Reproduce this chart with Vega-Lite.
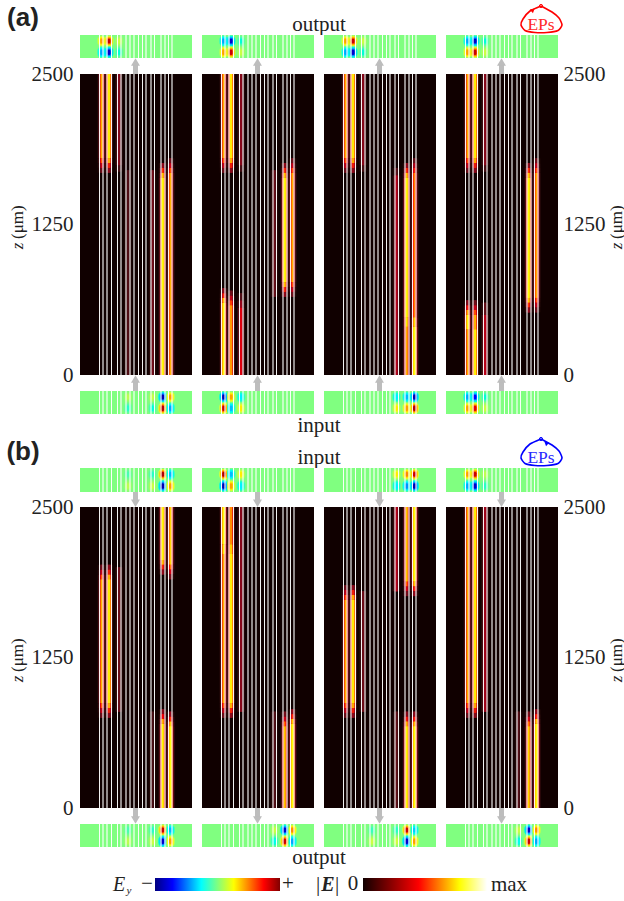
{"$schema":"https://vega.github.io/schema/vega-lite/v6.json","padding":0,"spacing":0,"background":"white","config":{"view":{"stroke":null},"concat":{"spacing":0},"text":{"font":"Liberation Serif"}},
"datasets":{
"stripes":[{"x":19.5,"k":"w"},{"x":23,"k":"g"},{"x":27,"k":"g"},{"x":31.5,"k":"w"},{"x":37.5,"k":"w"},{"x":41,"k":"g"},{"x":46,"k":"g"},{"x":50,"k":"g"},{"x":54,"k":"g"},{"x":58.5,"k":"w"},{"x":62.5,"k":"w"},{"x":66,"k":"g"},{"x":71,"k":"g"},{"x":74.5,"k":"w"},{"x":81,"k":"g"},{"x":85,"k":"g"},{"x":88.5,"k":"w"},{"x":92,"k":"g"}],
"up":[{"c":1,"a":0,"b":9,"h":12},{"c":2,"a":0,"b":9,"h":12},{"c":3,"a":0,"b":9,"h":12},{"c":4,"a":0,"b":9,"h":12}],
"down":[{"c":1,"a":7,"b":16,"h":4},{"c":2,"a":7,"b":16,"h":4},{"c":3,"a":7,"b":16,"h":4},{"c":4,"a":7,"b":16,"h":4}],
"axisText":[{"x":18,"z":1071,"t":"z","s":"i"},{"x":18,"z":1270,"t":"(μm)","s":"n"}],
"axisTextR":[{"x":54,"z":1071,"t":"z","s":"i"},{"x":54,"z":1270,"t":"(μm)","s":"n"}],
"heat":[
{"r":"a","c":1,"x":48,"a":0,"b":1700,"v":0.14},{"r":"a","c":1,"x":72.4,"a":0,"b":1700,"v":0.2},{"r":"a","c":1,"x":39,"a":1740,"b":2500,"v":0.25},{"r":"a","c":1,"x":39,"a":1690,"b":1740,"v":0.12},
{"r":"a","c":1,"x":21.7,"a":1800,"b":2500,"v":0.66},{"r":"a","c":1,"x":21.7,"a":1760,"b":1800,"v":0.53},{"r":"a","c":1,"x":21.7,"a":1720,"b":1760,"v":0.36},{"r":"a","c":1,"x":21.7,"a":1680,"b":1720,"v":0.2},
{"r":"a","c":1,"x":29,"a":1800,"b":2500,"v":0.86},{"r":"a","c":1,"x":29,"a":1760,"b":1800,"v":0.69},{"r":"a","c":1,"x":29,"a":1720,"b":1760,"v":0.47},{"r":"a","c":1,"x":29,"a":1680,"b":1720,"v":0.26},
{"r":"a","c":1,"x":82.7,"a":0,"b":1640,"v":0.88},{"r":"a","c":1,"x":82.7,"a":1640,"b":1680,"v":0.7},{"r":"a","c":1,"x":82.7,"a":1680,"b":1720,"v":0.48},{"r":"a","c":1,"x":82.7,"a":1720,"b":1760,"v":0.26},
{"r":"a","c":1,"x":90.5,"a":0,"b":1680,"v":0.64},{"r":"a","c":1,"x":90.5,"a":1680,"b":1720,"v":0.51},{"r":"a","c":1,"x":90.5,"a":1720,"b":1760,"v":0.35},{"r":"a","c":1,"x":90.5,"a":1760,"b":1800,"v":0.19},

{"r":"a","c":2,"x":72.4,"a":650,"b":1700,"v":0.18},{"r":"a","c":2,"x":39,"a":1740,"b":2500,"v":0.25},{"r":"a","c":2,"x":39,"a":1690,"b":1740,"v":0.12},{"r":"a","c":2,"x":39,"a":0,"b":560,"v":0.42},{"r":"a","c":2,"x":39,"a":560,"b":620,"v":0.28},{"r":"a","c":2,"x":39,"a":620,"b":680,"v":0.14},
{"r":"a","c":2,"x":21.7,"a":1800,"b":2500,"v":0.66},{"r":"a","c":2,"x":21.7,"a":1760,"b":1800,"v":0.53},{"r":"a","c":2,"x":21.7,"a":1720,"b":1760,"v":0.36},{"r":"a","c":2,"x":21.7,"a":1680,"b":1720,"v":0.2},
{"r":"a","c":2,"x":29,"a":1800,"b":2500,"v":0.86},{"r":"a","c":2,"x":29,"a":1760,"b":1800,"v":0.69},{"r":"a","c":2,"x":29,"a":1720,"b":1760,"v":0.47},{"r":"a","c":2,"x":29,"a":1680,"b":1720,"v":0.26},
{"r":"a","c":2,"x":82.7,"a":770,"b":1640,"v":0.88},{"r":"a","c":2,"x":82.7,"a":1640,"b":1680,"v":0.7},{"r":"a","c":2,"x":82.7,"a":1680,"b":1720,"v":0.48},{"r":"a","c":2,"x":82.7,"a":1720,"b":1760,"v":0.26},{"r":"a","c":2,"x":82.7,"a":730,"b":770,"v":0.7},{"r":"a","c":2,"x":82.7,"a":690,"b":730,"v":0.48},{"r":"a","c":2,"x":82.7,"a":650,"b":690,"v":0.26},
{"r":"a","c":2,"x":90.5,"a":770,"b":1680,"v":0.64},{"r":"a","c":2,"x":90.5,"a":1680,"b":1720,"v":0.51},{"r":"a","c":2,"x":90.5,"a":1720,"b":1760,"v":0.35},{"r":"a","c":2,"x":90.5,"a":1760,"b":1800,"v":0.19},{"r":"a","c":2,"x":90.5,"a":730,"b":770,"v":0.51},{"r":"a","c":2,"x":90.5,"a":690,"b":730,"v":0.35},{"r":"a","c":2,"x":90.5,"a":650,"b":690,"v":0.19},
{"r":"a","c":2,"x":21.7,"a":0,"b":600,"v":0.86},{"r":"a","c":2,"x":21.7,"a":600,"b":640,"v":0.69},{"r":"a","c":2,"x":21.7,"a":640,"b":680,"v":0.47},{"r":"a","c":2,"x":21.7,"a":680,"b":720,"v":0.26},
{"r":"a","c":2,"x":29,"a":0,"b":580,"v":0.66},{"r":"a","c":2,"x":29,"a":580,"b":620,"v":0.53},{"r":"a","c":2,"x":29,"a":620,"b":660,"v":0.36},{"r":"a","c":2,"x":29,"a":660,"b":700,"v":0.2},

{"r":"a","c":3,"x":72.4,"a":0,"b":1660,"v":0.32},{"r":"a","c":3,"x":72.4,"a":1660,"b":1720,"v":0.15},{"r":"a","c":3,"x":39,"a":1740,"b":2500,"v":0.25},{"r":"a","c":3,"x":39,"a":1690,"b":1740,"v":0.12},
{"r":"a","c":3,"x":21.7,"a":1800,"b":2500,"v":0.66},{"r":"a","c":3,"x":21.7,"a":1760,"b":1800,"v":0.53},{"r":"a","c":3,"x":21.7,"a":1720,"b":1760,"v":0.36},{"r":"a","c":3,"x":21.7,"a":1680,"b":1720,"v":0.2},
{"r":"a","c":3,"x":29,"a":1800,"b":2500,"v":0.86},{"r":"a","c":3,"x":29,"a":1760,"b":1800,"v":0.69},{"r":"a","c":3,"x":29,"a":1720,"b":1760,"v":0.47},{"r":"a","c":3,"x":29,"a":1680,"b":1720,"v":0.26},
{"r":"a","c":3,"x":82.7,"a":0,"b":400,"v":0.66},{"r":"a","c":3,"x":82.7,"a":400,"b":480,"v":0.77},{"r":"a","c":3,"x":82.7,"a":480,"b":1640,"v":0.88},{"r":"a","c":3,"x":82.7,"a":1640,"b":1680,"v":0.7},{"r":"a","c":3,"x":82.7,"a":1680,"b":1720,"v":0.48},{"r":"a","c":3,"x":82.7,"a":1720,"b":1760,"v":0.26},
{"r":"a","c":3,"x":90.5,"a":0,"b":400,"v":0.88},{"r":"a","c":3,"x":90.5,"a":400,"b":480,"v":0.72},{"r":"a","c":3,"x":90.5,"a":480,"b":1680,"v":0.58},{"r":"a","c":3,"x":90.5,"a":1680,"b":1720,"v":0.46},{"r":"a","c":3,"x":90.5,"a":1720,"b":1760,"v":0.32},{"r":"a","c":3,"x":90.5,"a":1760,"b":1800,"v":0.17},

{"r":"a","c":4,"x":39,"a":1740,"b":2500,"v":0.25},{"r":"a","c":4,"x":39,"a":1690,"b":1740,"v":0.12},{"r":"a","c":4,"x":39,"a":0,"b":500,"v":0.35},{"r":"a","c":4,"x":39,"a":500,"b":600,"v":0.18},
{"r":"a","c":4,"x":21.7,"a":1800,"b":2500,"v":0.66},{"r":"a","c":4,"x":21.7,"a":1760,"b":1800,"v":0.53},{"r":"a","c":4,"x":21.7,"a":1720,"b":1760,"v":0.36},{"r":"a","c":4,"x":21.7,"a":1680,"b":1720,"v":0.2},
{"r":"a","c":4,"x":29,"a":1800,"b":2500,"v":0.86},{"r":"a","c":4,"x":29,"a":1760,"b":1800,"v":0.69},{"r":"a","c":4,"x":29,"a":1720,"b":1760,"v":0.47},{"r":"a","c":4,"x":29,"a":1680,"b":1720,"v":0.26},
{"r":"a","c":4,"x":82.7,"a":640,"b":1640,"v":0.88},{"r":"a","c":4,"x":82.7,"a":1640,"b":1680,"v":0.7},{"r":"a","c":4,"x":82.7,"a":1680,"b":1720,"v":0.48},{"r":"a","c":4,"x":82.7,"a":1720,"b":1760,"v":0.26},{"r":"a","c":4,"x":82.7,"a":600,"b":640,"v":0.7},{"r":"a","c":4,"x":82.7,"a":560,"b":600,"v":0.48},{"r":"a","c":4,"x":82.7,"a":520,"b":560,"v":0.26},
{"r":"a","c":4,"x":90.5,"a":640,"b":1680,"v":0.64},{"r":"a","c":4,"x":90.5,"a":1680,"b":1720,"v":0.51},{"r":"a","c":4,"x":90.5,"a":1720,"b":1760,"v":0.35},{"r":"a","c":4,"x":90.5,"a":1760,"b":1800,"v":0.19},{"r":"a","c":4,"x":90.5,"a":600,"b":640,"v":0.51},{"r":"a","c":4,"x":90.5,"a":560,"b":600,"v":0.35},{"r":"a","c":4,"x":90.5,"a":520,"b":560,"v":0.19},
{"r":"a","c":4,"x":21.7,"a":0,"b":380,"v":0.66},{"r":"a","c":4,"x":21.7,"a":380,"b":500,"v":0.84},{"r":"a","c":4,"x":21.7,"a":500,"b":540,"v":0.67},{"r":"a","c":4,"x":21.7,"a":540,"b":580,"v":0.46},{"r":"a","c":4,"x":21.7,"a":580,"b":620,"v":0.25},
{"r":"a","c":4,"x":29,"a":0,"b":380,"v":0.88},{"r":"a","c":4,"x":29,"a":380,"b":500,"v":0.7},{"r":"a","c":4,"x":29,"a":500,"b":540,"v":0.56},{"r":"a","c":4,"x":29,"a":540,"b":580,"v":0.38},{"r":"a","c":4,"x":29,"a":580,"b":620,"v":0.21},

{"r":"b","c":1,"x":39,"a":800,"b":2000,"v":0.2},{"r":"b","c":1,"x":72.4,"a":0,"b":800,"v":0.12},
{"r":"b","c":1,"x":82.7,"a":2060,"b":2500,"v":0.86},{"r":"b","c":1,"x":82.7,"a":2020,"b":2060,"v":0.69},{"r":"b","c":1,"x":82.7,"a":1980,"b":2020,"v":0.47},{"r":"b","c":1,"x":82.7,"a":1940,"b":1980,"v":0.26},
{"r":"b","c":1,"x":90.5,"a":2020,"b":2500,"v":0.7},{"r":"b","c":1,"x":90.5,"a":1980,"b":2020,"v":0.56},{"r":"b","c":1,"x":90.5,"a":1940,"b":1980,"v":0.38},{"r":"b","c":1,"x":90.5,"a":1900,"b":1940,"v":0.21},
{"r":"b","c":1,"x":21.7,"a":870,"b":1900,"v":0.66},{"r":"b","c":1,"x":21.7,"a":1900,"b":1940,"v":0.53},{"r":"b","c":1,"x":21.7,"a":1940,"b":1980,"v":0.36},{"r":"b","c":1,"x":21.7,"a":1980,"b":2020,"v":0.2},{"r":"b","c":1,"x":21.7,"a":830,"b":870,"v":0.53},{"r":"b","c":1,"x":21.7,"a":790,"b":830,"v":0.36},{"r":"b","c":1,"x":21.7,"a":750,"b":790,"v":0.2},
{"r":"b","c":1,"x":29,"a":870,"b":1900,"v":0.86},{"r":"b","c":1,"x":29,"a":1900,"b":1940,"v":0.69},{"r":"b","c":1,"x":29,"a":1940,"b":1980,"v":0.47},{"r":"b","c":1,"x":29,"a":1980,"b":2020,"v":0.26},{"r":"b","c":1,"x":29,"a":830,"b":870,"v":0.69},{"r":"b","c":1,"x":29,"a":790,"b":830,"v":0.47},{"r":"b","c":1,"x":29,"a":750,"b":790,"v":0.26},
{"r":"b","c":1,"x":82.7,"a":0,"b":700,"v":0.82},{"r":"b","c":1,"x":82.7,"a":700,"b":740,"v":0.66},{"r":"b","c":1,"x":82.7,"a":740,"b":780,"v":0.45},{"r":"b","c":1,"x":82.7,"a":780,"b":820,"v":0.25},
{"r":"b","c":1,"x":90.5,"a":0,"b":680,"v":0.86},{"r":"b","c":1,"x":90.5,"a":680,"b":720,"v":0.69},{"r":"b","c":1,"x":90.5,"a":720,"b":760,"v":0.47},{"r":"b","c":1,"x":90.5,"a":760,"b":800,"v":0.26},

{"r":"b","c":2,"x":39,"a":800,"b":2500,"v":0.25},{"r":"b","c":2,"x":72.4,"a":0,"b":800,"v":0.14},
{"r":"b","c":2,"x":21.7,"a":2190,"b":2500,"v":0.88},{"r":"b","c":2,"x":21.7,"a":2110,"b":2190,"v":0.77},{"r":"b","c":2,"x":21.7,"a":870,"b":2110,"v":0.66},{"r":"b","c":2,"x":21.7,"a":830,"b":870,"v":0.53},{"r":"b","c":2,"x":21.7,"a":790,"b":830,"v":0.36},{"r":"b","c":2,"x":21.7,"a":750,"b":790,"v":0.2},
{"r":"b","c":2,"x":29,"a":2190,"b":2500,"v":0.64},{"r":"b","c":2,"x":29,"a":2110,"b":2190,"v":0.76},{"r":"b","c":2,"x":29,"a":870,"b":2110,"v":0.88},{"r":"b","c":2,"x":29,"a":830,"b":870,"v":0.7},{"r":"b","c":2,"x":29,"a":790,"b":830,"v":0.48},{"r":"b","c":2,"x":29,"a":750,"b":790,"v":0.26},
{"r":"b","c":2,"x":82.7,"a":0,"b":680,"v":0.7},{"r":"b","c":2,"x":82.7,"a":680,"b":720,"v":0.56},{"r":"b","c":2,"x":82.7,"a":720,"b":760,"v":0.38},{"r":"b","c":2,"x":82.7,"a":760,"b":800,"v":0.21},
{"r":"b","c":2,"x":90.5,"a":0,"b":700,"v":0.86},{"r":"b","c":2,"x":90.5,"a":700,"b":740,"v":0.69},{"r":"b","c":2,"x":90.5,"a":740,"b":780,"v":0.47},{"r":"b","c":2,"x":90.5,"a":780,"b":820,"v":0.26},

{"r":"b","c":3,"x":39,"a":800,"b":1800,"v":0.2},{"r":"b","c":3,"x":72.4,"a":1800,"b":2500,"v":0.32},{"r":"b","c":3,"x":72.4,"a":0,"b":800,"v":0.16},
{"r":"b","c":3,"x":21.7,"a":870,"b":1730,"v":0.66},{"r":"b","c":3,"x":21.7,"a":1730,"b":1770,"v":0.53},{"r":"b","c":3,"x":21.7,"a":1770,"b":1810,"v":0.36},{"r":"b","c":3,"x":21.7,"a":1810,"b":1850,"v":0.2},{"r":"b","c":3,"x":21.7,"a":830,"b":870,"v":0.53},{"r":"b","c":3,"x":21.7,"a":790,"b":830,"v":0.36},{"r":"b","c":3,"x":21.7,"a":750,"b":790,"v":0.2},
{"r":"b","c":3,"x":29,"a":870,"b":1730,"v":0.86},{"r":"b","c":3,"x":29,"a":1730,"b":1770,"v":0.69},{"r":"b","c":3,"x":29,"a":1770,"b":1810,"v":0.47},{"r":"b","c":3,"x":29,"a":1810,"b":1850,"v":0.26},{"r":"b","c":3,"x":29,"a":830,"b":870,"v":0.69},{"r":"b","c":3,"x":29,"a":790,"b":830,"v":0.47},{"r":"b","c":3,"x":29,"a":750,"b":790,"v":0.26},
{"r":"b","c":3,"x":82.7,"a":1880,"b":2500,"v":0.7},{"r":"b","c":3,"x":82.7,"a":1840,"b":1880,"v":0.56},{"r":"b","c":3,"x":82.7,"a":1800,"b":1840,"v":0.38},{"r":"b","c":3,"x":82.7,"a":1760,"b":1800,"v":0.21},
{"r":"b","c":3,"x":90.5,"a":1880,"b":2500,"v":0.86},{"r":"b","c":3,"x":90.5,"a":1840,"b":1880,"v":0.69},{"r":"b","c":3,"x":90.5,"a":1800,"b":1840,"v":0.47},{"r":"b","c":3,"x":90.5,"a":1760,"b":1800,"v":0.26},
{"r":"b","c":3,"x":82.7,"a":0,"b":680,"v":0.84},{"r":"b","c":3,"x":82.7,"a":680,"b":720,"v":0.67},{"r":"b","c":3,"x":82.7,"a":720,"b":760,"v":0.46},{"r":"b","c":3,"x":82.7,"a":760,"b":800,"v":0.25},
{"r":"b","c":3,"x":90.5,"a":0,"b":680,"v":0.84},{"r":"b","c":3,"x":90.5,"a":680,"b":720,"v":0.67},{"r":"b","c":3,"x":90.5,"a":720,"b":760,"v":0.46},{"r":"b","c":3,"x":90.5,"a":760,"b":800,"v":0.25},

{"r":"b","c":4,"x":39,"a":800,"b":2500,"v":0.3},{"r":"b","c":4,"x":72.4,"a":0,"b":800,"v":0.14},
{"r":"b","c":4,"x":21.7,"a":870,"b":2500,"v":0.66},{"r":"b","c":4,"x":21.7,"a":830,"b":870,"v":0.53},{"r":"b","c":4,"x":21.7,"a":790,"b":830,"v":0.36},{"r":"b","c":4,"x":21.7,"a":750,"b":790,"v":0.2},
{"r":"b","c":4,"x":29,"a":870,"b":2500,"v":0.86},{"r":"b","c":4,"x":29,"a":830,"b":870,"v":0.69},{"r":"b","c":4,"x":29,"a":790,"b":830,"v":0.47},{"r":"b","c":4,"x":29,"a":750,"b":790,"v":0.26},
{"r":"b","c":4,"x":82.7,"a":0,"b":680,"v":0.72},{"r":"b","c":4,"x":82.7,"a":680,"b":720,"v":0.58},{"r":"b","c":4,"x":82.7,"a":720,"b":760,"v":0.39},{"r":"b","c":4,"x":82.7,"a":760,"b":800,"v":0.22},
{"r":"b","c":4,"x":90.5,"a":0,"b":700,"v":0.86},{"r":"b","c":4,"x":90.5,"a":700,"b":740,"v":0.69},{"r":"b","c":4,"x":90.5,"a":740,"b":780,"v":0.47},{"r":"b","c":4,"x":90.5,"a":780,"b":820,"v":0.26}
],
"modes":[
{"r":"at","c":1,"x":21.7,"a":16,"b":18,"v":0.5},{"r":"at","c":1,"x":21.7,"a":4.5,"b":7,"v":-0.5},{"r":"at","c":1,"x":29,"a":16,"b":18,"v":0.85},{"r":"at","c":1,"x":29,"a":4.5,"b":7,"v":-0.85},{"r":"at","c":1,"x":39,"a":16,"b":18,"v":0.15},{"r":"at","c":1,"x":39,"a":4.5,"b":7,"v":-0.15},
{"r":"at","c":2,"x":21.7,"a":16,"b":18,"v":-0.5},{"r":"at","c":2,"x":21.7,"a":4.5,"b":7,"v":0.5},{"r":"at","c":2,"x":29,"a":16,"b":18,"v":-0.85},{"r":"at","c":2,"x":29,"a":4.5,"b":7,"v":0.85},{"r":"at","c":2,"x":39,"a":16,"b":18,"v":-0.15},{"r":"at","c":2,"x":39,"a":4.5,"b":7,"v":0.15},
{"r":"at","c":3,"x":21.7,"a":16,"b":18,"v":0.5},{"r":"at","c":3,"x":21.7,"a":4.5,"b":7,"v":-0.5},{"r":"at","c":3,"x":29,"a":16,"b":18,"v":0.85},{"r":"at","c":3,"x":29,"a":4.5,"b":7,"v":-0.85},{"r":"at","c":3,"x":39,"a":16,"b":18,"v":0.15},{"r":"at","c":3,"x":39,"a":4.5,"b":7,"v":-0.15},
{"r":"at","c":4,"x":21.7,"a":16,"b":18,"v":-0.5},{"r":"at","c":4,"x":21.7,"a":4.5,"b":7,"v":0.5},{"r":"at","c":4,"x":29,"a":16,"b":18,"v":-0.85},{"r":"at","c":4,"x":29,"a":4.5,"b":7,"v":0.85},{"r":"at","c":4,"x":39,"a":16,"b":18,"v":-0.15},{"r":"at","c":4,"x":39,"a":4.5,"b":7,"v":0.15},

{"r":"ab","c":1,"x":48,"a":16,"b":18,"v":0.12},{"r":"ab","c":1,"x":48,"a":4.5,"b":7,"v":-0.12},{"r":"ab","c":1,"x":72.4,"a":16,"b":18,"v":0.14},{"r":"ab","c":1,"x":72.4,"a":4.5,"b":7,"v":-0.16},{"r":"ab","c":1,"x":82.7,"a":16,"b":18,"v":-0.9},{"r":"ab","c":1,"x":82.7,"a":4.5,"b":7,"v":0.9},{"r":"ab","c":1,"x":90.5,"a":16,"b":18,"v":0.5},{"r":"ab","c":1,"x":90.5,"a":4.5,"b":7,"v":-0.5},
{"r":"ab","c":2,"x":39,"a":16,"b":18,"v":-0.3},{"r":"ab","c":2,"x":39,"a":4.5,"b":7,"v":0.3},{"r":"ab","c":2,"x":21.7,"a":16,"b":18,"v":-0.9},{"r":"ab","c":2,"x":21.7,"a":4.5,"b":7,"v":0.85},{"r":"ab","c":2,"x":29,"a":16,"b":18,"v":0.5},{"r":"ab","c":2,"x":29,"a":4.5,"b":7,"v":-0.45},
{"r":"ab","c":3,"x":72.4,"a":16,"b":18,"v":-0.3},{"r":"ab","c":3,"x":72.4,"a":4.5,"b":7,"v":0.3},{"r":"ab","c":3,"x":82.7,"a":16,"b":18,"v":-0.45},{"r":"ab","c":3,"x":82.7,"a":4.5,"b":7,"v":0.5},{"r":"ab","c":3,"x":90.5,"a":16,"b":18,"v":-0.9},{"r":"ab","c":3,"x":90.5,"a":4.5,"b":7,"v":0.9},
{"r":"ab","c":4,"x":39,"a":16,"b":18,"v":-0.15},{"r":"ab","c":4,"x":39,"a":4.5,"b":7,"v":0.15},{"r":"ab","c":4,"x":21.7,"a":16,"b":18,"v":-0.5},{"r":"ab","c":4,"x":21.7,"a":4.5,"b":7,"v":0.5},{"r":"ab","c":4,"x":29,"a":16,"b":18,"v":-0.75},{"r":"ab","c":4,"x":29,"a":4.5,"b":7,"v":0.8},

{"r":"bt","c":1,"x":48,"a":16,"b":18,"v":-0.08},{"r":"bt","c":1,"x":48,"a":4.5,"b":7,"v":0.12},{"r":"bt","c":1,"x":72.4,"a":16,"b":18,"v":-0.12},{"r":"bt","c":1,"x":72.4,"a":4.5,"b":7,"v":0.15},{"r":"bt","c":1,"x":82.7,"a":16,"b":18,"v":0.9},{"r":"bt","c":1,"x":82.7,"a":4.5,"b":7,"v":-0.9},{"r":"bt","c":1,"x":90.5,"a":16,"b":18,"v":-0.45},{"r":"bt","c":1,"x":90.5,"a":4.5,"b":7,"v":0.5},
{"r":"bt","c":2,"x":39,"a":16,"b":18,"v":0.3},{"r":"bt","c":2,"x":39,"a":4.5,"b":7,"v":-0.3},{"r":"bt","c":2,"x":21.7,"a":16,"b":18,"v":0.9},{"r":"bt","c":2,"x":21.7,"a":4.5,"b":7,"v":-0.9},{"r":"bt","c":2,"x":29,"a":16,"b":18,"v":-0.45},{"r":"bt","c":2,"x":29,"a":4.5,"b":7,"v":0.5},
{"r":"bt","c":3,"x":72.4,"a":16,"b":18,"v":0.3},{"r":"bt","c":3,"x":72.4,"a":4.5,"b":7,"v":-0.3},{"r":"bt","c":3,"x":82.7,"a":16,"b":18,"v":0.55},{"r":"bt","c":3,"x":82.7,"a":4.5,"b":7,"v":-0.55},{"r":"bt","c":3,"x":90.5,"a":16,"b":18,"v":0.85},{"r":"bt","c":3,"x":90.5,"a":4.5,"b":7,"v":-0.9},
{"r":"bt","c":4,"x":39,"a":16,"b":18,"v":0.12},{"r":"bt","c":4,"x":39,"a":4.5,"b":7,"v":-0.12},{"r":"bt","c":4,"x":21.7,"a":16,"b":18,"v":0.5},{"r":"bt","c":4,"x":21.7,"a":4.5,"b":7,"v":-0.5},{"r":"bt","c":4,"x":29,"a":16,"b":18,"v":0.85},{"r":"bt","c":4,"x":29,"a":4.5,"b":7,"v":-0.85},

{"r":"bb","c":1,"x":48,"a":4.5,"b":7,"v":0.12},{"r":"bb","c":1,"x":48,"a":16,"b":18,"v":-0.08},{"r":"bb","c":1,"x":72.4,"a":16,"b":18,"v":-0.12},{"r":"bb","c":1,"x":72.4,"a":4.5,"b":7,"v":0.15},{"r":"bb","c":1,"x":82.7,"a":16,"b":18,"v":0.85},{"r":"bb","c":1,"x":82.7,"a":4.5,"b":7,"v":-0.85},{"r":"bb","c":1,"x":90.5,"a":16,"b":18,"v":-0.45},{"r":"bb","c":1,"x":90.5,"a":4.5,"b":7,"v":0.5},
{"r":"bb","c":2,"x":72.4,"a":16,"b":18,"v":0.15},{"r":"bb","c":2,"x":72.4,"a":4.5,"b":7,"v":-0.2},{"r":"bb","c":2,"x":82.7,"a":16,"b":18,"v":-0.85},{"r":"bb","c":2,"x":82.7,"a":4.5,"b":7,"v":0.85},{"r":"bb","c":2,"x":90.5,"a":16,"b":18,"v":0.55},{"r":"bb","c":2,"x":90.5,"a":4.5,"b":7,"v":-0.5},
{"r":"bb","c":3,"x":48,"a":4.5,"b":7,"v":0.15},{"r":"bb","c":3,"x":48,"a":16,"b":18,"v":-0.1},{"r":"bb","c":3,"x":72.4,"a":16,"b":18,"v":-0.12},{"r":"bb","c":3,"x":72.4,"a":4.5,"b":7,"v":0.16},{"r":"bb","c":3,"x":82.7,"a":16,"b":18,"v":0.85},{"r":"bb","c":3,"x":82.7,"a":4.5,"b":7,"v":-0.85},{"r":"bb","c":3,"x":90.5,"a":16,"b":18,"v":-0.4},{"r":"bb","c":3,"x":90.5,"a":4.5,"b":7,"v":0.5},
{"r":"bb","c":4,"x":72.4,"a":16,"b":18,"v":0.15},{"r":"bb","c":4,"x":72.4,"a":4.5,"b":7,"v":-0.2},{"r":"bb","c":4,"x":82.7,"a":16,"b":18,"v":-0.85},{"r":"bb","c":4,"x":82.7,"a":4.5,"b":7,"v":0.85},{"r":"bb","c":4,"x":90.5,"a":16,"b":18,"v":0.55},{"r":"bb","c":4,"x":90.5,"a":4.5,"b":7,"v":-0.5}
]
},
"hconcat":[
{"vconcat":[
{"width":80,"height":74,"data":{"values":[{"x":23,"y":18,"t":"(a)"}]},"mark":{"type":"text","font":"Liberation Sans","fontWeight":"bold","fontSize":26,"color":"#222222"},"encoding":{"x":{"field":"x","type":"quantitative","scale":{"domain":[0,80]},"axis":null},"y":{"field":"y","type":"quantitative","scale":{"domain":[0,74],"reverse":true},"axis":null},"text":{"field":"t"}}},
{"width":80,"height":301,"data":{"name":"axisText"},"layer":[{"transform":[{"filter":"datum.s=='n'"}],"mark":{"type":"text","fontSize":17,"angle":270,"color":"#222222"}},{"transform":[{"filter":"datum.s=='i'"}],"mark":{"type":"text","fontSize":17,"angle":270,"fontStyle":"italic","color":"#222222"}}],"encoding":{"x":{"field":"x","type":"quantitative","scale":{"domain":[0,80]},"axis":null},"y":{"field":"z","type":"quantitative","scale":{"domain":[0,2500]},"axis":{"orient":"right","values":[0,1250,2500],"format":"d","title":null,"domain":false,"ticks":false,"grid":false,"labelAlign":"right","labelBaseline":"middle","labelPadding":-7,"labelFont":"Liberation Serif","labelFontSize":21,"labelColor":"#222222","labelOverlap":false,"labelFlush":false}},"text":{"field":"t"}}},
{"width":80,"height":132,"data":{"values":[{"x":23,"y":77,"t":"(b)"}]},"mark":{"type":"text","font":"Liberation Sans","fontWeight":"bold","fontSize":26,"color":"#222222"},"encoding":{"x":{"field":"x","type":"quantitative","scale":{"domain":[0,80]},"axis":null},"y":{"field":"y","type":"quantitative","scale":{"domain":[0,132],"reverse":true},"axis":null},"text":{"field":"t"}}},
{"width":80,"height":301,"data":{"name":"axisText"},"layer":[{"transform":[{"filter":"datum.s=='n'"}],"mark":{"type":"text","fontSize":17,"angle":270,"color":"#222222"}},{"transform":[{"filter":"datum.s=='i'"}],"mark":{"type":"text","fontSize":17,"angle":270,"fontStyle":"italic","color":"#222222"}}],"encoding":{"x":{"field":"x","type":"quantitative","scale":{"domain":[0,80]},"axis":null},"y":{"field":"z","type":"quantitative","scale":{"domain":[0,2500]},"axis":{"orient":"right","values":[0,1250,2500],"format":"d","title":null,"domain":false,"ticks":false,"grid":false,"labelAlign":"right","labelBaseline":"middle","labelPadding":-7,"labelFont":"Liberation Serif","labelFontSize":21,"labelColor":"#222222","labelOverlap":false,"labelFlush":false}},"text":{"field":"t"}}}
],"spacing":0,"bounds":"flush"},
{"vconcat":[
{"width":478,"height":35,"encoding":{"x":{"field":"x","type":"quantitative","scale":{"domain":[0,478]},"axis":null},"y":{"field":"y","type":"quantitative","scale":{"domain":[0,35],"reverse":true},"axis":null}},"layer":[
{"data":{"values":[{"x":239,"y":25,"t":"output"}]},"mark":{"type":"text","fontSize":21,"color":"#222222","clip":true},"encoding":{"text":{"field":"t"}}},
{"data":{"values":[{"o":0,"x":461,"y":6},{"o":1,"x":450,"y":11},{"o":2,"x":443,"y":19},{"o":3,"x":441,"y":25},{"o":4,"x":445,"y":30.5},{"o":5,"x":455,"y":32.5},{"o":6,"x":467,"y":32.5},{"o":7,"x":478,"y":30.5},{"o":8,"x":482,"y":25},{"o":9,"x":479,"y":18},{"o":10,"x":472,"y":12},{"o":11,"x":461,"y":6}]},"mark":{"type":"line","color":"#ff0000","strokeWidth":1.6,"strokeJoin":"round","interpolate":"cardinal","tension":0.4},"encoding":{"order":{"field":"o"}}},
{"data":{"values":[{"x":461,"y":25,"t":"EPs"}]},"mark":{"type":"text","fontSize":17.5,"color":"#ff2a2a","clip":true},"encoding":{"text":{"field":"t"}}},
{"data":{"values":[{"x":453,"y":10}]},"mark":{"type":"point","shape":"triangle-up","filled":true,"size":25,"angle":50,"color":"#ff0000","opacity":1}},
{"data":{"values":[{"x":461,"y":6}]},"mark":{"type":"point","size":10,"color":"#ff0000","opacity":1,"strokeWidth":1}}
]},
{"data":{"name":"modes"},"transform":[{"filter":"datum.r=='at'"}],"facet":{"column":{"field":"c","type":"ordinal","header":null}},"spacing":10,"spec":{"width":112,"height":23,"view":{"fill":"#80ff80"},"layer":[
{"encoding":{"x":{"field":"x","type":"quantitative","scale":{"domain":[0,112]},"axis":null},"y":{"field":"a","type":"quantitative","scale":{"domain":[0,23]},"axis":null},"y2":{"field":"b"}},"layer":[
{"mark":{"type":"rule","strokeWidth":9,"strokeCap":"round","clip":true},"encoding":{"color":{"field":"v","type":"quantitative","legend":null,"scale":{"domain":[-5,-3.75,-1.25,0,1.25,3.75,5],"range":["#000080","#0000ff","#00ffff","#80ff80","#ffff00","#ff0000","#800000"]}}}},
{"mark":{"type":"rule","strokeWidth":7,"strokeCap":"round","clip":true},"encoding":{"color":{"field":"v","type":"quantitative","legend":null,"scale":{"domain":[-2.222,-1.667,-0.556,0,0.556,1.667,2.222],"range":["#000080","#0000ff","#00ffff","#80ff80","#ffff00","#ff0000","#800000"]}}}},
{"mark":{"type":"rule","strokeWidth":5,"strokeCap":"round","clip":true},"encoding":{"color":{"field":"v","type":"quantitative","legend":null,"scale":{"domain":[-1.429,-1.071,-0.357,0,0.357,1.071,1.429],"range":["#000080","#0000ff","#00ffff","#80ff80","#ffff00","#ff0000","#800000"]}}}},
{"mark":{"type":"rule","strokeWidth":3,"strokeCap":"round","clip":true},"encoding":{"color":{"field":"v","type":"quantitative","legend":null,"scale":{"domain":[-1,-0.75,-0.25,0,0.25,0.75,1],"range":["#000080","#0000ff","#00ffff","#80ff80","#ffff00","#ff0000","#800000"]}}}}
],"resolve":{"scale":{"color":"independent"}}},
{"data":{"name":"stripes"},"mark":{"type":"rule","color":"#ffffff","clip":true},"encoding":{"x":{"field":"x","type":"quantitative","scale":{"domain":[0,112]},"axis":null},"opacity":{"field":"k","type":"nominal","legend":null,"scale":{"domain":["w","g"],"range":[0.95,0.55]}},"strokeWidth":{"field":"k","type":"nominal","legend":null,"scale":{"domain":["w","g"],"range":[1,2]}}}}
]}},
{"data":{"name":"up"},"facet":{"column":{"field":"c","type":"ordinal","header":null}},"spacing":10,"spec":{"width":112,"height":16,"encoding":{"x":{"datum":55.5,"type":"quantitative","scale":{"domain":[0,112]},"axis":null}},"layer":[{"mark":{"type":"rule","strokeWidth":5,"color":"#bdbdbd","clip":true},"encoding":{"y":{"field":"a","type":"quantitative","scale":{"domain":[0,16]},"axis":null},"y2":{"field":"b"}}},{"mark":{"type":"point","shape":"triangle-up","filled":true,"size":80,"color":"#bdbdbd","opacity":1,"clip":true},"encoding":{"y":{"field":"h","type":"quantitative","scale":{"domain":[0,16]},"axis":null}}}]}},
{"data":{"name":"heat"},"transform":[{"filter":"datum.r=='a'"}],"facet":{"column":{"field":"c","type":"ordinal","header":null}},"spacing":10,"spec":{"width":112,"height":301,"view":{"fill":"#100000"},"layer":[
{"encoding":{"x":{"field":"x","type":"quantitative","scale":{"domain":[0,112]},"axis":null},"y":{"field":"a","type":"quantitative","scale":{"domain":[0,2500]},"axis":null},"y2":{"field":"b"}},"layer":[
{"mark":{"type":"rule","strokeWidth":8,"clip":true},"encoding":{"color":{"field":"v","type":"quantitative","legend":null,"scale":{"domain":[0,3.75,6.5,8.33],"range":["#100000","#ff0000","#ffff00","#ffffff"]}}}},
{"mark":{"type":"rule","strokeWidth":6,"clip":true},"encoding":{"color":{"field":"v","type":"quantitative","legend":null,"scale":{"domain":[0,1.5,2.6,3.33],"range":["#100000","#ff0000","#ffff00","#ffffff"]}}}},
{"mark":{"type":"rule","strokeWidth":4.5,"clip":true},"encoding":{"color":{"field":"v","type":"quantitative","legend":null,"scale":{"domain":[0,0.818,1.418,1.818],"range":["#100000","#ff0000","#ffff00","#ffffff"]}}}},
{"mark":{"type":"rule","strokeWidth":3,"clip":true},"encoding":{"color":{"field":"v","type":"quantitative","legend":null,"scale":{"domain":[0,0.5625,0.975,1.25],"range":["#100000","#ff0000","#ffff00","#ffffff"]}}}},
{"mark":{"type":"rule","strokeWidth":1.2,"clip":true},"encoding":{"color":{"field":"v","type":"quantitative","legend":null,"scale":{"domain":[0,0.45,0.78,1],"range":["#100000","#ff0000","#ffff00","#ffffff"]}}}}
],"resolve":{"scale":{"color":"independent"}}},
{"data":{"name":"stripes"},"mark":{"type":"rule","color":"#ffffff","clip":true},"encoding":{"x":{"field":"x","type":"quantitative","scale":{"domain":[0,112]},"axis":null},"opacity":{"field":"k","type":"nominal","legend":null,"scale":{"domain":["w","g"],"range":[0.95,0.55]}},"strokeWidth":{"field":"k","type":"nominal","legend":null,"scale":{"domain":["w","g"],"range":[1,2]}}}}
]}},
{"data":{"name":"up"},"facet":{"column":{"field":"c","type":"ordinal","header":null}},"spacing":10,"spec":{"width":112,"height":16,"encoding":{"x":{"datum":55.5,"type":"quantitative","scale":{"domain":[0,112]},"axis":null}},"layer":[{"mark":{"type":"rule","strokeWidth":5,"color":"#bdbdbd","clip":true},"encoding":{"y":{"field":"a","type":"quantitative","scale":{"domain":[0,16]},"axis":null},"y2":{"field":"b"}}},{"mark":{"type":"point","shape":"triangle-up","filled":true,"size":80,"color":"#bdbdbd","opacity":1,"clip":true},"encoding":{"y":{"field":"h","type":"quantitative","scale":{"domain":[0,16]},"axis":null}}}]}},
{"data":{"name":"modes"},"transform":[{"filter":"datum.r=='ab'"}],"facet":{"column":{"field":"c","type":"ordinal","header":null}},"spacing":10,"spec":{"width":112,"height":23,"view":{"fill":"#80ff80"},"layer":[
{"encoding":{"x":{"field":"x","type":"quantitative","scale":{"domain":[0,112]},"axis":null},"y":{"field":"a","type":"quantitative","scale":{"domain":[0,23]},"axis":null},"y2":{"field":"b"}},"layer":[
{"mark":{"type":"rule","strokeWidth":9,"strokeCap":"round","clip":true},"encoding":{"color":{"field":"v","type":"quantitative","legend":null,"scale":{"domain":[-5,-3.75,-1.25,0,1.25,3.75,5],"range":["#000080","#0000ff","#00ffff","#80ff80","#ffff00","#ff0000","#800000"]}}}},
{"mark":{"type":"rule","strokeWidth":7,"strokeCap":"round","clip":true},"encoding":{"color":{"field":"v","type":"quantitative","legend":null,"scale":{"domain":[-2.222,-1.667,-0.556,0,0.556,1.667,2.222],"range":["#000080","#0000ff","#00ffff","#80ff80","#ffff00","#ff0000","#800000"]}}}},
{"mark":{"type":"rule","strokeWidth":5,"strokeCap":"round","clip":true},"encoding":{"color":{"field":"v","type":"quantitative","legend":null,"scale":{"domain":[-1.429,-1.071,-0.357,0,0.357,1.071,1.429],"range":["#000080","#0000ff","#00ffff","#80ff80","#ffff00","#ff0000","#800000"]}}}},
{"mark":{"type":"rule","strokeWidth":3,"strokeCap":"round","clip":true},"encoding":{"color":{"field":"v","type":"quantitative","legend":null,"scale":{"domain":[-1,-0.75,-0.25,0,0.25,0.75,1],"range":["#000080","#0000ff","#00ffff","#80ff80","#ffff00","#ff0000","#800000"]}}}}
],"resolve":{"scale":{"color":"independent"}}},
{"data":{"name":"stripes"},"mark":{"type":"rule","color":"#ffffff","clip":true},"encoding":{"x":{"field":"x","type":"quantitative","scale":{"domain":[0,112]},"axis":null},"opacity":{"field":"k","type":"nominal","legend":null,"scale":{"domain":["w","g"],"range":[0.95,0.55]}},"strokeWidth":{"field":"k","type":"nominal","legend":null,"scale":{"domain":["w","g"],"range":[1,2]}}}}
]}},
{"width":478,"height":54,"encoding":{"x":{"field":"x","type":"quantitative","scale":{"domain":[0,478]},"axis":null},"y":{"field":"y","type":"quantitative","scale":{"domain":[0,54],"reverse":true},"axis":null}},"layer":[
{"data":{"values":[{"x":239,"y":11.5,"t":"input"},{"x":239,"y":44,"t":"input"}]},"mark":{"type":"text","fontSize":21,"color":"#222222","clip":true},"encoding":{"text":{"field":"t"}}},
{"data":{"values":[{"o":0,"x":461,"y":25},{"o":1,"x":450,"y":30},{"o":2,"x":443,"y":38},{"o":3,"x":441,"y":44},{"o":4,"x":445,"y":49.5},{"o":5,"x":455,"y":51.5},{"o":6,"x":467,"y":51.5},{"o":7,"x":478,"y":49.5},{"o":8,"x":482,"y":44},{"o":9,"x":479,"y":37},{"o":10,"x":472,"y":31},{"o":11,"x":461,"y":25}]},"mark":{"type":"line","color":"#0000ff","strokeWidth":1.6,"strokeJoin":"round","interpolate":"cardinal","tension":0.4},"encoding":{"order":{"field":"o"}}},
{"data":{"values":[{"x":461,"y":44,"t":"EPs"}]},"mark":{"type":"text","fontSize":17.5,"color":"#2a2aff","clip":true},"encoding":{"text":{"field":"t"}}},
{"data":{"values":[{"x":466,"y":29}]},"mark":{"type":"point","shape":"triangle-up","filled":true,"size":25,"angle":-50,"color":"#0000ff","opacity":1}},
{"data":{"values":[{"x":461,"y":25}]},"mark":{"type":"point","size":10,"color":"#0000ff","opacity":1,"strokeWidth":1}}
]},
{"data":{"name":"modes"},"transform":[{"filter":"datum.r=='bt'"}],"facet":{"column":{"field":"c","type":"ordinal","header":null}},"spacing":10,"spec":{"width":112,"height":24,"view":{"fill":"#80ff80"},"layer":[
{"encoding":{"x":{"field":"x","type":"quantitative","scale":{"domain":[0,112]},"axis":null},"y":{"field":"a","type":"quantitative","scale":{"domain":[0,23]},"axis":null},"y2":{"field":"b"}},"layer":[
{"mark":{"type":"rule","strokeWidth":9,"strokeCap":"round","clip":true},"encoding":{"color":{"field":"v","type":"quantitative","legend":null,"scale":{"domain":[-5,-3.75,-1.25,0,1.25,3.75,5],"range":["#000080","#0000ff","#00ffff","#80ff80","#ffff00","#ff0000","#800000"]}}}},
{"mark":{"type":"rule","strokeWidth":7,"strokeCap":"round","clip":true},"encoding":{"color":{"field":"v","type":"quantitative","legend":null,"scale":{"domain":[-2.222,-1.667,-0.556,0,0.556,1.667,2.222],"range":["#000080","#0000ff","#00ffff","#80ff80","#ffff00","#ff0000","#800000"]}}}},
{"mark":{"type":"rule","strokeWidth":5,"strokeCap":"round","clip":true},"encoding":{"color":{"field":"v","type":"quantitative","legend":null,"scale":{"domain":[-1.429,-1.071,-0.357,0,0.357,1.071,1.429],"range":["#000080","#0000ff","#00ffff","#80ff80","#ffff00","#ff0000","#800000"]}}}},
{"mark":{"type":"rule","strokeWidth":3,"strokeCap":"round","clip":true},"encoding":{"color":{"field":"v","type":"quantitative","legend":null,"scale":{"domain":[-1,-0.75,-0.25,0,0.25,0.75,1],"range":["#000080","#0000ff","#00ffff","#80ff80","#ffff00","#ff0000","#800000"]}}}}
],"resolve":{"scale":{"color":"independent"}}},
{"data":{"name":"stripes"},"mark":{"type":"rule","color":"#ffffff","clip":true},"encoding":{"x":{"field":"x","type":"quantitative","scale":{"domain":[0,112]},"axis":null},"opacity":{"field":"k","type":"nominal","legend":null,"scale":{"domain":["w","g"],"range":[0.95,0.55]}},"strokeWidth":{"field":"k","type":"nominal","legend":null,"scale":{"domain":["w","g"],"range":[1,2]}}}}
]}},
{"data":{"name":"down"},"facet":{"column":{"field":"c","type":"ordinal","header":null}},"spacing":10,"spec":{"width":112,"height":15,"encoding":{"x":{"datum":55.5,"type":"quantitative","scale":{"domain":[0,112]},"axis":null}},"layer":[{"mark":{"type":"rule","strokeWidth":5,"color":"#bdbdbd","clip":true},"encoding":{"y":{"field":"a","type":"quantitative","scale":{"domain":[0,16]},"axis":null},"y2":{"field":"b"}}},{"mark":{"type":"point","shape":"triangle-down","filled":true,"size":80,"color":"#bdbdbd","opacity":1,"clip":true},"encoding":{"y":{"field":"h","type":"quantitative","scale":{"domain":[0,16]},"axis":null}}}]}},
{"data":{"name":"heat"},"transform":[{"filter":"datum.r=='b'"}],"facet":{"column":{"field":"c","type":"ordinal","header":null}},"spacing":10,"spec":{"width":112,"height":301,"view":{"fill":"#100000"},"layer":[
{"encoding":{"x":{"field":"x","type":"quantitative","scale":{"domain":[0,112]},"axis":null},"y":{"field":"a","type":"quantitative","scale":{"domain":[0,2500]},"axis":null},"y2":{"field":"b"}},"layer":[
{"mark":{"type":"rule","strokeWidth":8,"clip":true},"encoding":{"color":{"field":"v","type":"quantitative","legend":null,"scale":{"domain":[0,3.75,6.5,8.33],"range":["#100000","#ff0000","#ffff00","#ffffff"]}}}},
{"mark":{"type":"rule","strokeWidth":6,"clip":true},"encoding":{"color":{"field":"v","type":"quantitative","legend":null,"scale":{"domain":[0,1.5,2.6,3.33],"range":["#100000","#ff0000","#ffff00","#ffffff"]}}}},
{"mark":{"type":"rule","strokeWidth":4.5,"clip":true},"encoding":{"color":{"field":"v","type":"quantitative","legend":null,"scale":{"domain":[0,0.818,1.418,1.818],"range":["#100000","#ff0000","#ffff00","#ffffff"]}}}},
{"mark":{"type":"rule","strokeWidth":3,"clip":true},"encoding":{"color":{"field":"v","type":"quantitative","legend":null,"scale":{"domain":[0,0.5625,0.975,1.25],"range":["#100000","#ff0000","#ffff00","#ffffff"]}}}},
{"mark":{"type":"rule","strokeWidth":1.2,"clip":true},"encoding":{"color":{"field":"v","type":"quantitative","legend":null,"scale":{"domain":[0,0.45,0.78,1],"range":["#100000","#ff0000","#ffff00","#ffffff"]}}}}
],"resolve":{"scale":{"color":"independent"}}},
{"data":{"name":"stripes"},"mark":{"type":"rule","color":"#ffffff","clip":true},"encoding":{"x":{"field":"x","type":"quantitative","scale":{"domain":[0,112]},"axis":null},"opacity":{"field":"k","type":"nominal","legend":null,"scale":{"domain":["w","g"],"range":[0.95,0.55]}},"strokeWidth":{"field":"k","type":"nominal","legend":null,"scale":{"domain":["w","g"],"range":[1,2]}}}}
]}},
{"data":{"name":"down"},"facet":{"column":{"field":"c","type":"ordinal","header":null}},"spacing":10,"spec":{"width":112,"height":16,"encoding":{"x":{"datum":55.5,"type":"quantitative","scale":{"domain":[0,112]},"axis":null}},"layer":[{"mark":{"type":"rule","strokeWidth":5,"color":"#bdbdbd","clip":true},"encoding":{"y":{"field":"a","type":"quantitative","scale":{"domain":[0,16]},"axis":null},"y2":{"field":"b"}}},{"mark":{"type":"point","shape":"triangle-down","filled":true,"size":80,"color":"#bdbdbd","opacity":1,"clip":true},"encoding":{"y":{"field":"h","type":"quantitative","scale":{"domain":[0,16]},"axis":null}}}]}},
{"data":{"name":"modes"},"transform":[{"filter":"datum.r=='bb'"}],"facet":{"column":{"field":"c","type":"ordinal","header":null}},"spacing":10,"spec":{"width":112,"height":23,"view":{"fill":"#80ff80"},"layer":[
{"encoding":{"x":{"field":"x","type":"quantitative","scale":{"domain":[0,112]},"axis":null},"y":{"field":"a","type":"quantitative","scale":{"domain":[0,23]},"axis":null},"y2":{"field":"b"}},"layer":[
{"mark":{"type":"rule","strokeWidth":9,"strokeCap":"round","clip":true},"encoding":{"color":{"field":"v","type":"quantitative","legend":null,"scale":{"domain":[-5,-3.75,-1.25,0,1.25,3.75,5],"range":["#000080","#0000ff","#00ffff","#80ff80","#ffff00","#ff0000","#800000"]}}}},
{"mark":{"type":"rule","strokeWidth":7,"strokeCap":"round","clip":true},"encoding":{"color":{"field":"v","type":"quantitative","legend":null,"scale":{"domain":[-2.222,-1.667,-0.556,0,0.556,1.667,2.222],"range":["#000080","#0000ff","#00ffff","#80ff80","#ffff00","#ff0000","#800000"]}}}},
{"mark":{"type":"rule","strokeWidth":5,"strokeCap":"round","clip":true},"encoding":{"color":{"field":"v","type":"quantitative","legend":null,"scale":{"domain":[-1.429,-1.071,-0.357,0,0.357,1.071,1.429],"range":["#000080","#0000ff","#00ffff","#80ff80","#ffff00","#ff0000","#800000"]}}}},
{"mark":{"type":"rule","strokeWidth":3,"strokeCap":"round","clip":true},"encoding":{"color":{"field":"v","type":"quantitative","legend":null,"scale":{"domain":[-1,-0.75,-0.25,0,0.25,0.75,1],"range":["#000080","#0000ff","#00ffff","#80ff80","#ffff00","#ff0000","#800000"]}}}}
],"resolve":{"scale":{"color":"independent"}}},
{"data":{"name":"stripes"},"mark":{"type":"rule","color":"#ffffff","clip":true},"encoding":{"x":{"field":"x","type":"quantitative","scale":{"domain":[0,112]},"axis":null},"opacity":{"field":"k","type":"nominal","legend":null,"scale":{"domain":["w","g"],"range":[0.95,0.55]}},"strokeWidth":{"field":"k","type":"nominal","legend":null,"scale":{"domain":["w","g"],"range":[1,2]}}}}
]}},
{"width":478,"height":54,"encoding":{"x":{"field":"x","type":"quantitative","scale":{"domain":[0,478]},"axis":null},"y":{"field":"y","type":"quantitative","scale":{"domain":[0,54],"reverse":true},"axis":null}},"layer":[
{"data":{"values":[{"x":75,"x2":200,"y":31,"y2":44}]},"mark":{"type":"rect","color":{"gradient":"linear","x1":0,"x2":1,"y1":0,"y2":0,"stops":[{"offset":0,"color":"#000080"},{"offset":0.14,"color":"#0000ff"},{"offset":0.37,"color":"#00ffff"},{"offset":0.5,"color":"#80ff80"},{"offset":0.63,"color":"#ffff00"},{"offset":0.87,"color":"#ff0000"},{"offset":1,"color":"#800000"}]}},"encoding":{"x2":{"field":"x2"},"y2":{"field":"y2"}}},
{"data":{"values":[{"x":283,"x2":407,"y":31,"y2":44}]},"mark":{"type":"rect","color":{"gradient":"linear","x1":0,"x2":1,"y1":0,"y2":0,"stops":[{"offset":0,"color":"#100000"},{"offset":0.45,"color":"#ff0000"},{"offset":0.78,"color":"#ffff00"},{"offset":1,"color":"#ffffff"}]}},"encoding":{"x2":{"field":"x2"},"y2":{"field":"y2"}}},
{"data":{"values":[{"x":239,"y":11,"t":"output"},{"x":67,"y":37,"t":"−"},{"x":208,"y":37,"t":"+"},{"x":238,"y":38,"t":"|"},{"x":257,"y":38,"t":"|"},{"x":273,"y":37,"t":"0"},{"x":429,"y":38,"t":"max"}]},"mark":{"type":"text","fontSize":21,"color":"#222222","clip":true},"encoding":{"text":{"field":"t"}}},
{"data":{"values":[{"x":39,"y":38,"t":"E"}]},"mark":{"type":"text","fontSize":20,"fontStyle":"italic","color":"#222222","clip":true},"encoding":{"text":{"field":"t"}}},
{"data":{"values":[{"x":49,"y":44,"t":"y"}]},"mark":{"type":"text","fontSize":11,"fontStyle":"italic","color":"#222222","clip":true},"encoding":{"text":{"field":"t"}}},
{"data":{"values":[{"x":248,"y":38,"t":"E"}]},"mark":{"type":"text","fontSize":20,"fontStyle":"italic","fontWeight":"bold","color":"#222222","clip":true},"encoding":{"text":{"field":"t"}}}
]}
],"spacing":0},
{"vconcat":[
{"width":60,"height":74,"data":{"values":[{"x":0,"t":""}]},"mark":{"type":"text"},"encoding":{"text":{"field":"t"}}},
{"width":60,"height":301,"data":{"name":"axisTextR"},"layer":[{"transform":[{"filter":"datum.s=='n'"}],"mark":{"type":"text","fontSize":17,"angle":270,"color":"#222222"}},{"transform":[{"filter":"datum.s=='i'"}],"mark":{"type":"text","fontSize":17,"angle":270,"fontStyle":"italic","color":"#222222"}}],"encoding":{"x":{"field":"x","type":"quantitative","scale":{"domain":[0,60]},"axis":null},"y":{"field":"z","type":"quantitative","scale":{"domain":[0,2500]},"axis":{"orient":"left","values":[0,1250,2500],"format":"d","title":null,"domain":false,"ticks":false,"grid":false,"labelAlign":"left","labelBaseline":"middle","labelPadding":0,"labelFont":"Liberation Serif","labelFontSize":21,"labelColor":"#222222","labelOverlap":false,"labelFlush":false}},"text":{"field":"t"}}},
{"width":60,"height":132,"data":{"values":[{"x":0,"t":""}]},"mark":{"type":"text"},"encoding":{"text":{"field":"t"}}},
{"width":60,"height":301,"data":{"name":"axisTextR"},"layer":[{"transform":[{"filter":"datum.s=='n'"}],"mark":{"type":"text","fontSize":17,"angle":270,"color":"#222222"}},{"transform":[{"filter":"datum.s=='i'"}],"mark":{"type":"text","fontSize":17,"angle":270,"fontStyle":"italic","color":"#222222"}}],"encoding":{"x":{"field":"x","type":"quantitative","scale":{"domain":[0,60]},"axis":null},"y":{"field":"z","type":"quantitative","scale":{"domain":[0,2500]},"axis":{"orient":"left","values":[0,1250,2500],"format":"d","title":null,"domain":false,"ticks":false,"grid":false,"labelAlign":"left","labelBaseline":"middle","labelPadding":0,"labelFont":"Liberation Serif","labelFontSize":21,"labelColor":"#222222","labelOverlap":false,"labelFlush":false}},"text":{"field":"t"}}}
],"spacing":0,"bounds":"flush"}
]}
